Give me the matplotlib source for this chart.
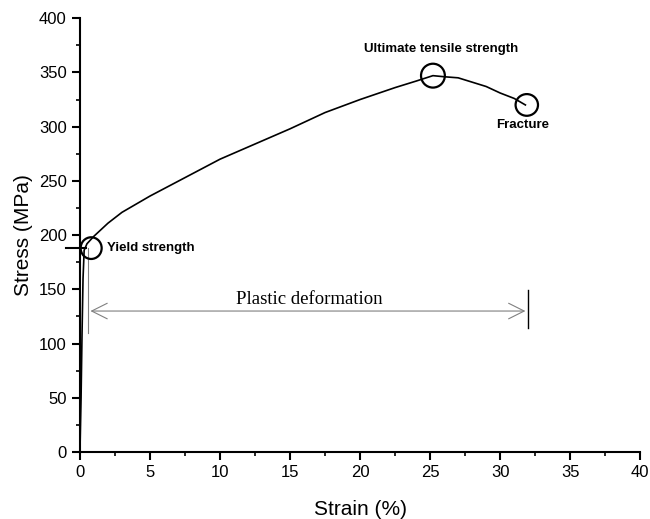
import matplotlib
matplotlib.use("Agg")
import matplotlib.pyplot as plt
from matplotlib.patches import Ellipse

strain = [0, 0.08, 0.15, 0.22, 0.3, 0.5, 1, 2, 3, 5, 7.5, 10, 12.5, 15, 17.5, 20, 22.5, 24, 25.2, 26, 27, 28, 29, 30, 31, 31.8]
stress = [0, 50, 110, 160, 186, 192, 199, 211, 221, 236, 253, 270, 284, 298, 313, 325, 336, 342, 347, 346, 345, 341, 337, 331, 326, 320]

yield_pt = (0.8, 188)
uts_pt = (25.2, 347)
frac_pt = (31.9, 320)

plt.rcParams['font.family'] = ['Liberation Sans', 'DejaVu Sans']
fig = plt.figure(figsize=(6.5, 5.19), dpi=100)
ax = fig.add_axes([0.123, 0.129, 0.862, 0.836])

ax.plot(strain, stress, color='black', lw=1.2)

for (x, y), w, h in [(yield_pt, 1.5, 20), (uts_pt, 1.7, 22), (frac_pt, 1.6, 20)]:
    ax.add_patch(Ellipse((x, y), w, h, fill=False, ec='black', lw=1.6, zorder=5))

# yield marker line
ax.plot([-1.0, 0.4], [188, 188], color='black', lw=1.5, clip_on=False)
# thin vertical guide at start
ax.plot([0.6, 0.6], [110, 188], color='gray', lw=0.8)
# plastic deformation arrow
ax.annotate('', xy=(0.55, 130), xytext=(32, 130),
            arrowprops=dict(arrowstyle='<->', color='gray', lw=0.8, mutation_scale=28))
ax.plot([32, 32], [114, 149], color='black', lw=1.0)
ax.text(16.4, 132.5, 'Plastic deformation', family=['Liberation Serif'], fontsize=13.5,
        ha='center', va='bottom')

ax.text(1.9, 188, 'Yield strength', fontweight='bold', fontsize=9.5, ha='left', va='center')
ax.text(25.8, 366, 'Ultimate tensile strength', fontweight='bold', fontsize=9.5, ha='center', va='bottom')
ax.text(31.6, 296, 'Fracture', fontweight='bold', fontsize=9.5, ha='center', va='bottom')

ax.set_xlim(0, 40)
ax.set_ylim(0, 400)
ax.set_xticks(range(0, 41, 5))
ax.set_yticks(range(0, 401, 50))
ax.set_xticks([i * 2.5 for i in range(17)], minor=True)
ax.set_yticks(range(0, 401, 25), minor=True)
ax.spines['top'].set_visible(False)
ax.spines['right'].set_visible(False)
ax.spines['left'].set_linewidth(1.5)
ax.spines['bottom'].set_linewidth(1.5)
ax.tick_params(which='major', direction='out', length=6, width=1.5, labelsize=12)
ax.tick_params(which='minor', direction='out', length=3, width=1.2)
ax.set_xlabel('Strain (%)', fontsize=15, labelpad=14)
ax.set_ylabel('Stress (MPa)', fontsize=15, labelpad=4)

fig.savefig('out.png', dpi=100)
